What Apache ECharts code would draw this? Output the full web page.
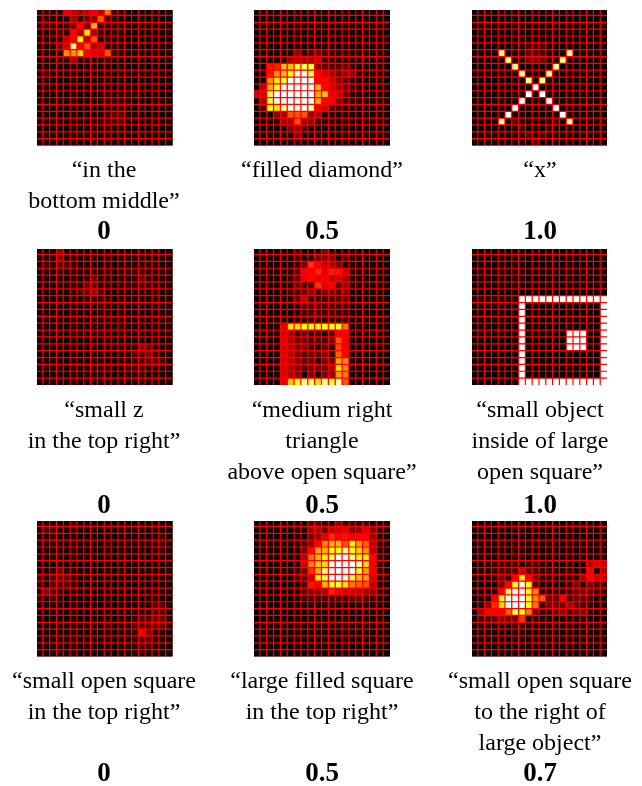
<!DOCTYPE html>
<html>
<head>
<meta charset="utf-8">
<style>
  html, body { margin: 0; padding: 0; background: #fff; }
  #myChart { width: 642px; height: 786px; }
</style>
</head>
<body>
<div id="myChart"></div>
<script src="https://cdn.jsdelivr.net/npm/echarts@6/dist/echarts.min.js"></script>
<script>
// cell intensities 0-100, one row per line, top row first
const inBottomMiddle = [
  [3,6,5,3,33,27,22,27,33,27,55,10,6,3,2,2,4,3,2,3],
  [4,9,4,2,5,22,7,15,20,50,12,8,4,2,2,3,3,2,3,2],
  [5,7,8,3,4,12,37,13,64,8,5,6,5,3,2,2,3,2,3,2],
  [4,4,5,10,6,37,24,72,25,9,4,7,5,3,2,3,4,3,2,3],
  [3,2,4,5,28,37,76,27,50,3,5,7,3,2,3,2,3,2,2,2],
  [4,3,3,18,32,88,37,50,24,30,3,8,4,3,2,2,3,3,3,3],
  [3,3,3,3,58,60,70,37,33,30,50,8,3,2,2,3,2,3,2,2],
  [3,2,4,7,3,23,5,6,5,4,3,4,2,2,3,3,3,2,2,3],
  [2,3,3,3,4,3,4,3,6,5,3,3,3,2,2,2,2,2,2,2],
  [3,8,3,2,3,3,3,3,4,3,4,4,3,3,2,2,3,2,3,2],
  [6,6,2,2,3,2,3,2,4,5,5,4,3,3,2,2,3,2,2,3],
  [2,3,3,2,2,2,3,2,4,5,4,5,4,6,3,3,2,3,2,2],
  [2,2,2,2,2,2,3,2,3,4,6,7,4,6,6,3,3,3,2,2],
  [3,2,2,3,2,3,2,2,3,4,7,8,6,5,3,2,2,2,3,2],
  [2,2,2,2,3,2,3,2,4,4,6,8,7,4,3,3,2,2,2,2],
  [2,3,2,2,2,3,2,3,4,5,7,15,12,5,3,2,2,3,2,3],
  [3,2,2,2,3,2,3,3,5,5,8,9,12,5,3,2,2,2,3,2],
  [2,3,2,2,2,3,2,2,7,7,7,6,5,3,2,3,3,2,2,2],
  [2,2,3,2,3,2,3,3,5,4,4,5,3,3,2,2,2,2,2,3],
  [4,3,4,3,4,3,4,3,6,5,4,4,3,3,3,2,3,3,3,3]
]
const filledDiamond = [
  [3,4,3,3,3,3,4,3,3,3,3,3,3,3,3,3,3,3,3,3],
  [3,3,3,3,3,3,3,3,3,3,3,2,3,3,3,3,3,3,3,3],
  [2,3,2,3,2,3,3,3,3,3,3,3,3,3,3,3,3,3,3,3],
  [2,2,2,3,3,3,3,3,3,3,3,3,3,3,3,3,3,3,3,3],
  [2,2,2,2,2,2,3,3,3,3,3,3,3,3,3,3,3,3,3,3],
  [2,2,2,2,2,2,2,2,3,3,4,4,3,3,3,3,3,3,3,3],
  [1,1,1,1,2,3,20,5,10,18,10,6,5,6,6,5,4,4,3,3],
  [1,1,1,1,3,22,24,25,22,28,10,8,5,5,6,5,4,4,5,3],
  [1,2,40,42,65,65,82,82,80,20,12,10,12,15,8,4,3,5,5,3],
  [1,2,40,60,65,75,98,98,82,37,30,22,15,20,22,5,3,4,5,3],
  [1,2,60,72,80,100,100,100,100,37,37,28,22,12,10,5,3,4,5,3],
  [2,25,64,78,98,100,100,100,100,65,37,30,22,15,10,4,3,3,3,3],
  [30,32,82,100,100,100,100,100,100,62,66,33,30,15,5,3,3,3,3,3],
  [2,25,80,98,100,100,100,100,100,64,37,37,20,8,8,3,3,3,3,3],
  [1,10,75,72,88,98,98,98,92,35,30,10,10,5,5,3,3,4,3,3],
  [1,2,2,20,25,50,50,50,22,25,4,5,4,3,3,3,3,3,3,3],
  [1,1,2,2,22,25,50,22,20,4,3,3,3,3,3,3,3,3,3,3],
  [1,1,1,2,3,20,22,15,3,3,3,3,3,3,3,3,3,3,3,3],
  [1,1,1,2,3,3,20,3,3,3,3,3,3,3,3,3,3,3,3,3],
  [2,1,2,2,3,3,5,4,3,3,3,3,3,3,3,3,3,3,3,3]
]
const letterX = [
  [2,3,3,2,2,2,3,3,3,3,3,3,3,2,3,2,2,3,2,2],
  [2,2,2,2,2,2,2,2,2,2,2,2,2,2,2,2,2,2,2,2],
  [2,2,2,2,2,2,2,2,2,2,2,2,2,2,2,2,2,2,2,2],
  [2,2,3,2,2,2,2,3,2,2,2,2,2,2,2,2,2,2,2,2],
  [1,1,2,2,2,2,2,3,3,3,3,2,2,2,2,2,2,2,2,2],
  [1,1,2,2,2,2,2,3,12,12,12,3,2,2,2,2,2,2,2,2],
  [1,1,2,2,88,2,2,3,15,10,10,3,2,2,88,2,2,2,2,2],
  [1,1,2,2,2,88,2,3,18,15,15,3,2,88,2,2,2,2,2,2],
  [1,1,2,2,2,2,88,2,2,2,3,3,88,2,2,2,2,2,2,2],
  [1,1,2,2,2,3,2,88,2,2,2,88,2,2,2,2,2,2,2,2],
  [1,1,2,2,2,3,2,2,88,2,88,2,2,2,2,2,2,2,2,2],
  [1,1,2,2,2,3,2,2,2,100,2,2,2,2,2,2,2,2,2,2],
  [1,1,2,2,2,2,2,2,100,2,100,2,2,2,2,2,2,2,2,2],
  [1,1,2,2,2,2,2,100,2,2,2,100,2,2,2,2,2,2,2,2],
  [1,1,2,2,2,2,100,2,2,2,2,2,100,2,2,2,2,2,2,2],
  [1,1,2,2,2,100,2,2,2,2,2,2,2,100,2,2,2,2,2,2],
  [1,1,2,2,88,3,12,3,3,2,2,2,10,3,88,2,2,2,2,2],
  [1,1,2,2,2,2,3,10,3,3,3,8,3,2,2,2,2,2,2,2],
  [1,1,2,3,3,3,3,3,14,5,12,3,3,3,2,2,2,2,2,2],
  [2,2,2,3,3,3,3,3,3,15,3,3,3,3,2,2,2,2,2,2]
]
const smallZ = [
  [2,3,3,20,5,3,4,3,3,3,3,3,3,3,3,3,6,5,3,3],
  [3,4,4,20,6,3,3,3,3,3,3,3,3,3,3,3,5,4,3,3],
  [3,10,4,15,12,5,3,3,3,3,3,3,3,3,4,5,8,5,3,3],
  [2,3,3,5,4,3,3,3,4,3,3,3,3,4,6,6,5,4,3,3],
  [2,3,2,3,3,3,3,5,17,6,3,3,3,3,6,16,8,4,3,3],
  [2,2,2,3,3,3,5,15,15,5,3,3,3,4,5,8,8,6,4,3],
  [2,2,2,3,3,5,12,15,25,12,4,3,3,3,4,4,5,8,4,3],
  [2,2,2,3,3,4,5,6,7,8,5,3,3,3,3,3,3,5,3,3],
  [2,2,2,3,3,3,4,4,6,8,4,3,3,3,3,3,3,3,3,3],
  [2,2,2,3,2,3,3,4,4,5,4,3,4,3,3,3,3,3,3,3],
  [2,2,2,2,2,3,3,4,5,4,4,6,6,3,3,3,3,3,3,3],
  [2,2,2,2,2,3,3,4,5,5,4,5,6,3,3,3,3,3,3,3],
  [2,2,2,2,2,3,3,3,5,6,5,3,3,3,3,3,3,3,3,3],
  [2,2,2,2,2,3,3,3,6,4,5,5,4,3,3,3,3,3,3,3],
  [2,2,2,2,2,3,3,3,6,4,3,6,4,4,4,22,15,5,3,3],
  [2,2,2,2,2,3,3,3,6,4,3,4,4,4,12,12,20,8,3,3],
  [2,2,2,2,2,3,3,3,5,5,3,4,4,5,8,10,15,14,10,3],
  [2,2,3,2,2,3,5,5,8,8,6,4,4,10,10,10,6,5,3,3],
  [2,2,2,2,3,3,4,5,6,6,5,4,3,5,6,8,5,3,3,3],
  [2,3,3,2,3,3,4,4,6,5,4,4,3,3,4,6,5,3,3,3]
]
const triangleAboveSquare = [
  [2,3,3,2,2,2,12,3,2,4,18,3,4,3,7,3,3,3,2,2],
  [2,2,2,2,2,3,10,3,4,15,20,18,3,12,6,3,3,3,2,2],
  [1,2,2,2,2,3,5,18,45,37,28,25,18,3,5,2,2,2,2,2],
  [1,2,2,2,2,3,12,37,37,44,33,42,40,30,4,2,2,2,2,2],
  [1,2,2,2,2,8,12,35,37,33,37,25,32,20,6,2,2,2,2,2],
  [1,2,2,2,2,4,15,10,8,45,33,37,12,22,5,2,2,2,2,2],
  [1,2,2,2,3,10,8,15,22,10,18,18,15,20,4,2,2,2,2,2],
  [1,2,2,2,3,4,14,30,6,8,6,8,12,15,3,2,2,2,2,2],
  [1,2,2,2,2,3,5,15,12,12,10,10,10,10,3,2,2,2,2,2],
  [1,2,2,2,2,2,2,10,8,12,8,10,8,6,3,2,2,2,2,2],
  [1,2,2,2,2,2,3,5,5,4,5,4,5,4,3,2,2,2,2,2],
  [1,2,2,2,32,70,70,75,73,72,75,75,75,55,3,2,2,2,2,2],
  [1,2,2,2,33,25,4,15,4,8,2,10,37,37,3,2,2,2,2,2],
  [1,2,2,2,33,25,15,18,10,12,10,18,50,37,5,2,2,2,2,2],
  [1,2,2,2,33,28,15,20,6,3,12,0,48,35,3,2,2,2,2,2],
  [1,2,2,2,33,26,15,12,15,12,20,3,52,37,4,2,2,2,2,2],
  [1,2,2,2,33,27,18,12,14,3,18,15,62,60,6,2,2,2,2,2],
  [1,2,2,2,33,26,15,10,15,15,15,25,70,58,5,2,2,2,2,2],
  [1,2,2,2,32,26,20,0,18,2,18,20,60,55,3,2,2,2,2,2],
  [1,2,2,2,33,66,75,88,85,70,90,78,92,50,3,2,2,2,2,2]
]
const insideOpenSquare = [
  [2,2,3,2,2,3,3,2,2,2,2,2,2,2,2,2,2,2,2,2],
  [2,2,3,2,3,3,3,2,1,1,1,1,1,1,1,1,1,1,1,1],
  [1,2,2,2,2,2,2,1,1,1,1,1,1,1,1,1,1,1,1,1],
  [1,2,2,2,2,2,2,1,1,1,1,1,1,1,1,1,1,1,1,1],
  [1,1,2,2,2,2,2,1,1,1,1,1,1,1,1,1,1,1,1,1],
  [1,1,1,1,1,1,1,1,1,1,1,1,1,1,1,1,1,1,1,1],
  [1,1,1,1,1,1,1,1,1,1,1,1,1,1,1,1,1,1,1,1],
  [5,5,5,5,5,5,5,100,100,100,100,100,100,100,100,100,100,100,100,100],
  [3,4,4,4,4,4,4,100,1,1,1,1,1,1,1,1,1,1,1,100],
  [1,2,2,2,2,2,2,100,1,1,1,1,1,1,1,1,1,1,1,100],
  [1,1,1,1,1,1,1,100,1,1,1,1,1,1,1,1,1,1,1,100],
  [1,1,1,1,1,1,1,100,1,1,1,1,1,1,1,1,1,1,1,100],
  [1,1,1,1,1,1,1,100,1,1,1,1,1,1,100,100,100,1,1,100],
  [1,1,1,1,1,1,1,100,1,1,1,1,1,1,100,100,100,1,1,100],
  [1,1,1,1,1,1,1,100,1,1,1,1,1,1,100,100,100,1,1,100],
  [1,1,1,1,1,1,1,100,1,1,1,1,1,1,1,1,1,1,1,100],
  [1,1,1,1,1,1,1,100,1,1,1,1,1,1,1,1,1,1,1,100],
  [1,1,1,1,1,1,1,100,1,1,1,1,1,1,1,1,1,1,1,100],
  [1,1,1,1,1,1,1,100,1,1,1,1,1,1,1,1,1,1,1,100],
  [1,1,1,1,1,1,1,100,100,100,100,100,100,100,100,100,100,100,100,100]
]
const smallOpenSquare = [
  [2,4,3,2,3,8,3,2,2,2,2,2,2,2,2,2,2,3,3,2],
  [4,10,10,4,3,5,3,2,2,2,2,2,2,2,2,2,2,3,3,3],
  [3,3,8,3,3,3,3,2,2,3,2,2,2,2,2,3,3,4,10,3],
  [3,3,6,3,4,3,2,2,2,2,2,2,2,2,2,2,3,5,8,3],
  [3,3,3,3,4,3,2,2,2,2,2,2,2,2,2,2,2,5,8,3],
  [3,3,3,3,3,2,2,2,2,2,2,2,2,2,2,2,2,3,3,3],
  [3,3,3,3,3,2,2,2,2,2,2,2,2,2,2,2,2,2,3,2],
  [3,3,3,16,5,2,2,2,2,2,2,2,2,2,2,2,2,2,2,2],
  [10,3,10,15,14,4,2,2,2,2,2,2,2,2,2,2,2,2,2,2],
  [8,3,12,12,12,8,2,2,2,2,2,2,2,2,2,2,2,2,2,2],
  [3,20,10,4,3,3,2,2,2,2,2,2,2,2,3,3,3,3,2,2],
  [10,4,10,3,2,2,2,2,2,2,2,2,2,2,5,3,6,4,2,2],
  [3,3,3,3,2,2,2,2,2,2,2,2,2,2,3,3,4,12,12,3],
  [2,2,3,2,2,2,2,2,2,2,2,3,5,3,3,4,5,10,14,4],
  [2,2,2,2,2,2,2,2,2,3,3,3,3,3,8,12,12,18,18,6],
  [2,2,2,2,2,2,2,2,2,3,3,3,3,3,10,12,14,16,12,5],
  [2,2,2,2,2,2,2,2,2,2,3,3,3,3,8,37,20,5,4,2],
  [2,2,2,4,4,3,3,3,3,3,3,3,3,3,5,10,15,4,3,3],
  [2,2,2,5,4,3,3,3,2,2,2,2,2,3,4,12,10,3,3,2],
  [2,2,3,5,5,3,2,3,2,2,2,2,2,2,5,6,5,3,3,3]
]
const largeFilledSquare = [
  [2,2,3,3,3,3,2,2,12,12,8,3,20,3,10,5,8,3,3,3],
  [2,2,2,2,2,2,3,3,22,25,15,28,30,33,18,20,32,20,5,4],
  [2,2,2,2,2,2,3,3,15,22,33,45,37,40,37,37,37,22,4,4],
  [1,2,2,2,2,2,2,10,18,37,58,65,65,50,75,60,52,26,3,3],
  [1,2,2,2,2,2,2,18,37,62,64,75,75,90,76,70,60,26,3,3],
  [1,2,2,2,2,2,2,25,55,65,75,85,100,98,88,75,74,37,4,3],
  [1,2,2,2,2,2,2,30,57,68,70,100,100,100,100,90,70,35,4,3],
  [1,2,2,2,2,2,5,15,45,64,88,98,100,100,100,76,62,34,3,3],
  [1,2,2,2,2,2,10,15,28,74,82,100,100,98,80,66,62,30,3,3],
  [1,2,2,2,2,2,2,10,40,37,64,76,80,72,55,52,50,25,3,3],
  [1,2,2,2,2,2,3,12,15,18,22,42,35,30,30,28,20,18,4,3],
  [1,2,2,2,2,2,3,10,10,8,10,8,12,8,15,15,10,10,3,3],
  [1,1,2,2,2,2,2,2,3,3,3,3,3,3,3,3,3,3,2,2],
  [1,1,1,2,2,2,2,2,2,3,3,3,3,3,3,3,2,2,2,2],
  [1,1,1,2,2,2,2,2,3,3,3,3,3,3,3,3,2,2,2,2],
  [1,1,1,2,2,2,2,2,3,3,3,3,3,3,3,3,2,2,2,2],
  [1,1,1,2,2,2,2,2,3,3,3,3,3,3,3,3,2,2,2,2],
  [1,1,1,2,2,2,2,2,2,3,3,3,3,3,3,2,2,2,2,2],
  [1,1,1,2,2,2,2,2,2,2,3,3,3,3,2,2,2,2,2,2],
  [1,1,2,2,2,2,2,2,3,3,3,3,3,3,3,2,2,2,2,2]
]
const rightOfLargeObject = [
  [2,2,2,2,3,3,2,2,2,2,2,2,2,2,2,2,2,2,2,2],
  [2,2,2,2,2,2,2,2,2,2,2,2,2,2,2,2,2,2,2,2],
  [1,2,2,2,2,2,2,2,2,2,2,2,2,2,2,2,2,2,2,2],
  [1,2,2,2,2,2,2,2,2,2,2,2,2,2,2,2,2,2,2,2],
  [1,2,2,2,2,2,2,2,2,2,2,2,2,2,2,2,2,2,2,2],
  [1,1,2,2,2,2,2,3,3,3,3,2,2,2,2,2,2,2,2,2],
  [1,1,2,8,8,8,9,3,10,9,5,4,3,3,4,3,4,25,33,28],
  [1,1,2,8,9,12,10,30,15,8,5,4,4,4,4,3,4,37,0,25],
  [1,1,2,6,12,5,37,72,37,15,5,6,3,4,5,4,22,37,28,28],
  [1,1,2,3,15,37,80,98,75,12,4,4,4,4,5,20,3,15,12,10],
  [1,1,2,3,37,84,100,100,76,58,6,3,6,4,5,12,15,10,8,5],
  [1,1,2,37,78,98,100,100,76,58,50,15,12,37,6,16,12,8,4,3],
  [1,3,20,44,70,100,100,100,76,56,8,15,15,15,25,15,8,4,3,3],
  [1,25,37,37,37,52,82,76,55,15,8,8,15,22,10,18,20,5,3,3],
  [3,8,10,14,20,18,15,45,6,4,3,3,3,4,3,4,4,3,2,2],
  [1,2,2,3,3,4,5,6,3,3,3,3,2,2,2,2,2,2,2,2],
  [1,2,2,3,3,3,3,3,3,2,2,2,2,2,2,2,2,2,2,2],
  [1,1,2,2,2,2,2,2,2,2,2,2,2,2,2,2,2,2,2,2],
  [1,1,1,2,2,2,2,2,2,2,2,2,2,2,2,2,2,2,2,2],
  [1,1,2,2,2,2,2,3,3,2,2,2,2,2,2,2,2,2,2,2]
]

const panelData = [
  inBottomMiddle, filledDiamond, letterX,
  smallZ, triangleAboveSquare, insideOpenSquare,
  smallOpenSquare, largeFilledSquare, rightOfLargeObject
]
const captions = [
  ['“in the', 'bottom middle”'], ['“filled diamond”'], ['“x”'],
  ['“small z', 'in the top right”'], ['“medium right', 'triangle', 'above open square”'], ['“small object', 'inside of large', 'open square”'],
  ['“small open square', 'in the top right”'], ['“large filled square', 'in the top right”'], ['“small open square', 'to the right of', 'large object”']
]
const scores = ['0', '0.5', '1.0', '0', '0.5', '1.0', '0', '0.5', '0.7']
const gridTicks = [1, 2, 3, 4, 5, 6, 7, 8, 9, 10, 11, 12, 13, 14, 15, 16, 17, 18, 19]

// layout
const colLeft = [37, 254, 472]
const colWidth = [135.5, 136, 135]
const colCenter = [104, 322, 540]
const rowTop = [10, 249, 521]
const rowHeight = [135.5, 136, 135.5]
const captionY = [171, 410.5, 682]
const scoreY = [232, 506, 774]
const lineStep = 31

function renderCell (params, api) {
  let from = api.coord([api.value(0), api.value(1)])
  let to = api.coord([api.value(0) + 1, api.value(1) + 1])
  return {
    type: 'rect',
    shape: { x: from[0], y: from[1], width: to[0] - from[0], height: to[1] - from[1] },
    style: { fill: api.visual('color') }
  }
}

function renderGridLine (params, api) {
  let tick = api.value(0)
  let a = api.coord([tick, 0])
  let b = api.coord([tick, 20])
  let c = api.coord([0, tick])
  let d = api.coord([20, tick])
  let lineStyle = { stroke: '#ff0000', lineWidth: 1.2 }
  return {
    type: 'group',
    children: [
      { type: 'line', shape: { x1: a[0], y1: a[1], x2: b[0], y2: b[1] }, style: lineStyle },
      { type: 'line', shape: { x1: c[0], y1: c[1], x2: d[0], y2: d[1] }, style: lineStyle }
    ]
  }
}

let grids = []
let xAxes = []
let yAxes = []
let series = []
let texts = []
let heatIndexes = []

panelData.forEach((rows, i) => {
  let col = i % 3
  let row = Math.floor(i / 3)
  grids.push({ left: colLeft[col], top: rowTop[row], width: colWidth[col], height: rowHeight[row], show: true, backgroundColor: '#000', borderWidth: 0 })
  xAxes.push({ type: 'value', gridIndex: i, min: 0.15, max: 20, show: false })
  yAxes.push({ type: 'value', gridIndex: i, min: 0.2, max: 20, inverse: true, show: false })

  let cells = []
  rows.forEach((values, y) => {
    values.forEach((v, x) => cells.push([x, y, v]))
  })
  heatIndexes.push(series.length)
  series.push({
    type: 'custom',
    xAxisIndex: i,
    yAxisIndex: i,
    clip: true,
    silent: true,
    animation: false,
    encode: { x: 0, y: 1 },
    data: cells,
    renderItem: renderCell
  })
  series.push({
    type: 'custom',
    xAxisIndex: i,
    yAxisIndex: i,
    clip: true,
    silent: true,
    animation: false,
    encode: { x: 0, y: 0 },
    data: gridTicks.map(t => [t]),
    renderItem: renderGridLine
  })

  captions[i].forEach((line, n) => {
    texts.push({
      type: 'text',
      x: colCenter[col],
      y: captionY[row] + n * lineStep,
      style: { text: line, fill: '#000', font: '24px "Liberation Serif"', textAlign: 'center', textVerticalAlign: 'middle' }
    })
  })
  texts.push({
    type: 'text',
    x: colCenter[col],
    y: scoreY[row],
    style: { text: scores[i], fill: '#000', font: 'bold 27px "Liberation Serif"', textAlign: 'center', textVerticalAlign: 'middle' }
  })
})

let myChart = echarts.init(document.getElementById('myChart'), null, { renderer: 'canvas' })
myChart.setOption({
  animation: false,
  backgroundColor: '#fff',
  grid: grids,
  xAxis: xAxes,
  yAxis: yAxes,
  visualMap: {
    show: false,
    type: 'continuous',
    min: 0,
    max: 100,
    dimension: 2,
    seriesIndex: heatIndexes,
    inRange: {
      color: ['#000000', '#550000', '#aa0000', '#ff0000', '#ff5500', '#ffaa00', '#ffff00', '#ffff80', '#ffffff']
    }
  },
  series: series,
  graphic: texts
})
</script>
</body>
</html>
